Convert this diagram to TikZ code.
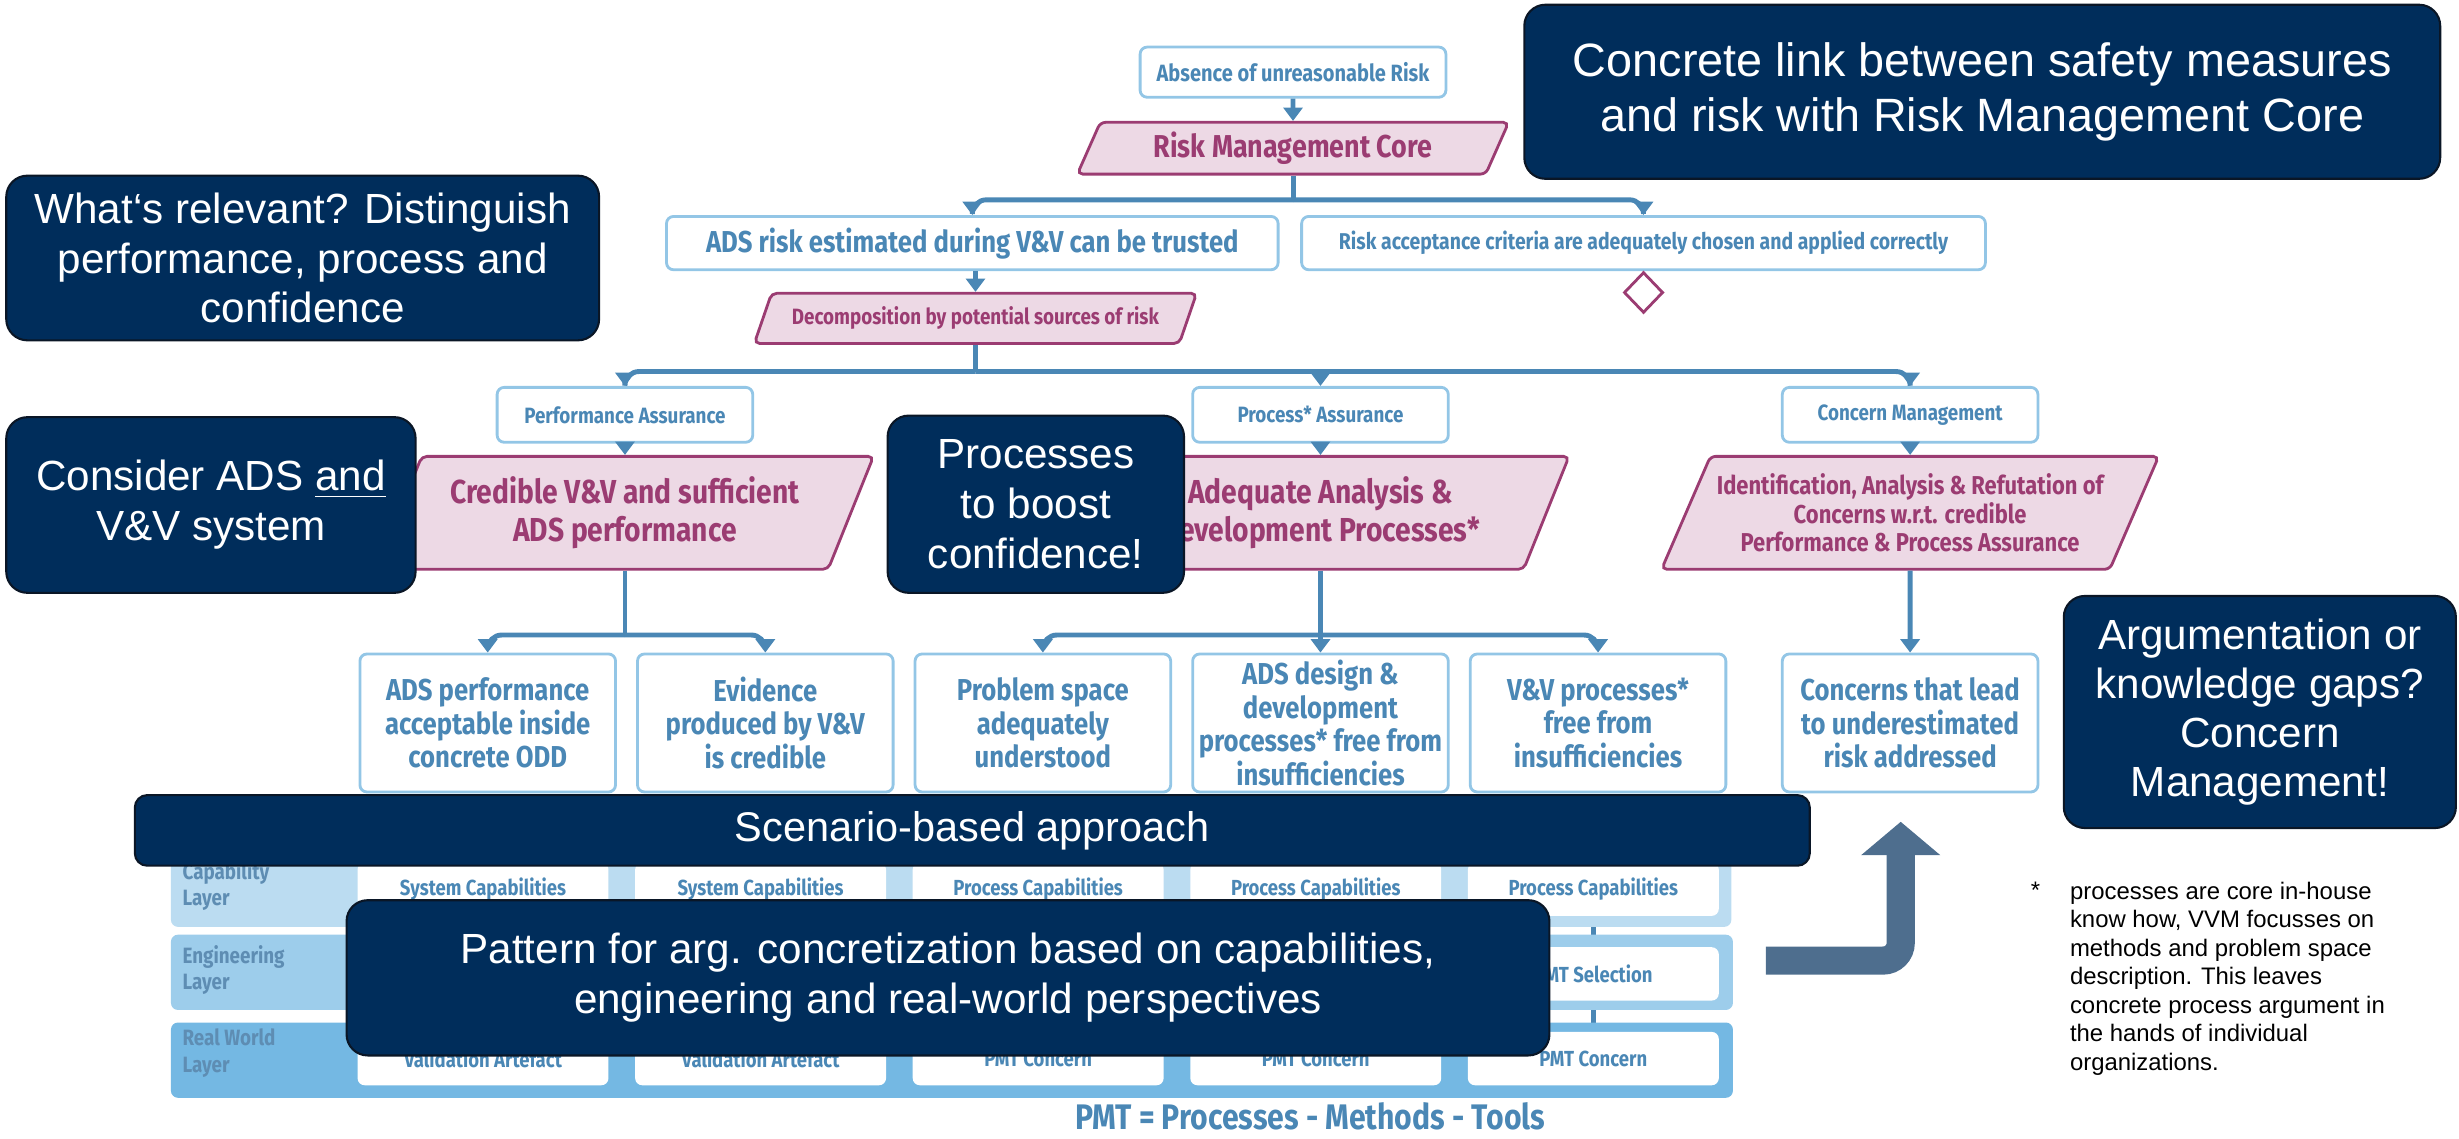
\documentclass[tikz,border=0pt]{standalone}
\usepackage{fontspec}
\setmainfont{Liberation Sans}
\newfontfamily\gsnfont[FakeStretch=0.85]{Fira Sans}
\usepackage{tikz}
\usetikzlibrary{arrows.meta}
\usetikzlibrary{shapes.geometric}
\usetikzlibrary{backgrounds}
\newdimen\unitpx
\unitpx=0.1568mm
\newcommand{\fsz}[2]{\fontsize{#1}{#2}\selectfont}
\definecolor{navybox}{HTML}{002D5B}
\definecolor{navyline}{HTML}{0A1626}
\definecolor{gsnblue}{HTML}{4A87B5}
\definecolor{gsnframe}{HTML}{93C6E6}
\definecolor{stratfill}{HTML}{EDD9E5}
\definecolor{stratline}{HTML}{9B3C72}
\definecolor{capband}{HTML}{BBDCF1}
\definecolor{engband}{HTML}{9DCDEB}
\definecolor{rwband}{HTML}{74B8E3}
\definecolor{bigarrow}{HTML}{4E6E8E}
\definecolor{layertext}{HTML}{5E8DB3}
\tikzset{
  goal/.style={draw=gsnframe, line width=0.8pt, fill=white, rounded corners=2pt, text=gsnblue, align=center, inner sep=1pt},
  strat/.style={trapezium, trapezium left angle=60, trapezium right angle=120, trapezium stretches body, draw=stratline, fill=stratfill, line width=0.8pt, rounded corners=1.5pt, text=stratline, align=center, inner xsep=-10pt, inner ysep=1pt},
  assure/.style={goal, font=\gsnfont\bfseries\fsz{6.3}{7.4}, minimum width=163\unitpx, minimum height=35\unitpx},
  branch/.style={strat, font=\gsnfont\bfseries\fsz{9.45}{10.6}, minimum width=317\unitpx, minimum height=72\unitpx},
  subgoal/.style={goal, font=\gsnfont\bfseries\fsz{8.6}{9.5}, minimum width=163\unitpx, minimum height=88\unitpx},
  link/.style={draw=gsnblue, line width=1.4pt, rounded corners=4pt},
  tip/.style={-{Triangle[width=5.4pt,length=3.8pt]}},
  cell/.style={fill=white, rounded corners=2pt, text=gsnblue, font=\gsnfont\bfseries\fsz{6.2}{7.2}, minimum width=160\unitpx, minimum height=34\unitpx, inner sep=0pt},
  layerlabel/.style={text=layertext, font=\gsnfont\bfseries\fsz{6.3}{7.6}, align=left, anchor=west, inner sep=0pt},
  callout/.style={fill=navybox, draw=navyline, line width=0.6pt, rounded corners=6pt, text=white, align=center, inner sep=0pt, font=\fsz{12}{14.2}},
}
\begin{document}
\begin{tikzpicture}[x=0.1568mm, y=-0.1568mm]
\useasboundingbox (0,0) rectangle (1568,726);

\node[goal, font=\gsnfont\bfseries\fsz{6.7}{7.8}, minimum width=195\unitpx, minimum height=32\unitpx] (absence) at (824.5,46) {Absence of unreasonable Risk};
\node[strat, font=\gsnfont\bfseries\fsz{9}{10.2}, minimum width=275\unitpx, minimum height=33\unitpx] (rmc) at (824.5,94.5) {Risk Management Core};
\node[goal, font=\gsnfont\bfseries\fsz{8.6}{9.8}, minimum width=390\unitpx, minimum height=34\unitpx] (adsrisk) at (620,155) {ADS risk estimated during V\&V can be trusted};
\node[goal, font=\gsnfont\bfseries\fsz{6.5}{7.6}, minimum width=436\unitpx, minimum height=34\unitpx] (riskacc) at (1048,155) {Risk acceptance criteria are adequately chosen and applied correctly};
\node[diamond, draw=stratline, fill=white, line width=0.8pt, inner sep=0pt, minimum width=25\unitpx, minimum height=26\unitpx] (undev) at (1048,186.5) {};
\node[strat, font=\gsnfont\bfseries\fsz{6.3}{7.4}, minimum width=282\unitpx, minimum height=32\unitpx] (decomp) at (622,203) {Decomposition by potential sources of risk};

\node[assure] (perfA) at (398.5,264.5) {Performance Assurance};
\node[assure] (procA) at (842,264.5) {Process* Assurance};
\node[assure] (concM) at (1218,264.5) {Concern Management};

\node[branch] (credible) at (398.5,327) {Credible V\&V and sufficient\\ADS performance};
\node[branch] (adequate) at (842,327) {Adequate Analysis \&\\Development Processes*};
\node[branch, font=\gsnfont\bfseries\fsz{7.35}{8}] (ident) at (1218,327) {Identification, Analysis \& Refutation of\\Concerns w.r.t. credible\\Performance \& Process Assurance};

\node[subgoal] (g1) at (311,461) {ADS performance\\acceptable inside\\concrete ODD};
\node[subgoal] (g2) at (488,461) {Evidence\\produced by V\&V\\is credible};
\node[subgoal] (g3) at (665,461) {Problem space\\adequately\\understood};
\node[subgoal] (g4) at (842,461) {ADS design \&\\development\\processes* free from\\insufficiencies};
\node[subgoal] (g5) at (1019,461) {V\&V processes*\\free from\\insufficiencies};
\node[subgoal] (g6) at (1218,461) {Concerns that lead\\to underestimated\\risk addressed};

\draw[link, tip] (absence.south) -- (rmc.north);
\draw[link] (rmc.south) -- ++(0,15.5) coordinate (j1);
\draw[link, tip] (j1) -| (adsrisk.north);
\draw[link, tip] (j1) -| (riskacc.north);
\draw[link, tip] (adsrisk.south -| decomp.north) -- (decomp.north);
\draw[link] (decomp.south) -- ++(0,17) coordinate (j2);
\draw[link, tip] (j2) -| (perfA.north);
\draw[link, tip] (j2) -| (concM.north);
\draw[link, tip] (j2 -| procA.north) -- (procA.north);
\draw[link, tip] (perfA.south) -- (credible.north);
\draw[link, tip] (procA.south) -- (adequate.north);
\draw[link, tip] (concM.south) -- (ident.north);
\draw[link] (credible.south) -- ++(0,41) coordinate (j3);
\draw[link, tip] (j3) -| (g1.north);
\draw[link, tip] (j3) -| (g2.north);
\draw[link] (adequate.south) -- ++(0,41) coordinate (j4);
\draw[link, tip] (j4) -| (g3.north);
\draw[link, tip] (j4) -| (g5.north);
\draw[link, tip] (j4) -- (g4.north);
\draw[link, tip] (ident.south) -- (g6.north);

\foreach \x/\t [count=\i] in {308/System Capabilities, 485/System Capabilities, 662/Process Capabilities, 839/Process Capabilities, 1016/Process Capabilities}
  \node[cell] (cap\i) at (\x,567) {\t};
\node[cell] (eng5) at (1016,621) {PMT Selection};
\foreach \x/\t [count=\i] in {308/Validation Artefact, 485/Validation Artefact, 662/PMT Concern, 839/PMT Concern, 1016/PMT Concern}
  \node[cell] (rw\i) at (\x,675) {\t};
\node[layerlabel] (caplabel) at (116,565) {Capability\\Layer};
\node[layerlabel] (englabel) at (116,618.5) {Engineering\\Layer};
\node[layerlabel] (rwlabel) at (116,671.5) {Real World\\Layer};
\begin{pgfonlayer}{background}
\draw[gsnblue, line width=1.6pt] (cap5.south) -- (eng5.north);
\draw[gsnblue, line width=1.6pt] (eng5.south) -- (rw5.north);
\fill[capband, rounded corners=2pt] (109,543) rectangle (1104,591);
\fill[engband, rounded corners=2pt] (109,596) rectangle (1105,644);
\fill[rwband, rounded corners=2pt] (109,652) rectangle (1105,700);
\end{pgfonlayer}

\coordinate (upfoot) at (1126,612.5);
\coordinate (uptip) at (1212,524);
\draw[bigarrow, line width=8pt, rounded corners=5pt, -{Triangle[width=22pt,length=9.5pt]}] (upfoot) -| (uptip);

\node[font=\gsnfont\bfseries\fsz{10.1}{11.5}, text=gsnblue, anchor=base, inner sep=0pt] (pmt) at (835.5,720.5) {PMT = Processes - Methods - Tools};
\node[font=\fsz{6.8}{8.1}, anchor=base, inner sep=0pt] (star) at (1298,573) {*};
\node[font=\fsz{6.8}{8.1}, anchor=north west, align=left, inner sep=0pt] (note) at (1319.5,562) {processes are core in-house\\know how, VVM focusses on\\methods and problem space\\description. This leaves\\concrete process argument in\\the hands of individual\\organizations.};

\node[callout, minimum width=378\unitpx, minimum height=105\unitpx] (relevant) at (193,164.5) {What‘s relevant? Distinguish\\performance, process and\\confidence};
\node[callout, font=\fsz{13.3}{15.5}, minimum width=584\unitpx, minimum height=111\unitpx] (riskcore) at (1264,58.5) {Concrete link between safety measures\\and risk with Risk Management Core};
\node[callout, minimum width=261\unitpx, minimum height=112\unitpx] (adsvv) at (134.5,322) {Consider ADS \underline{and}\\V\&V system};
\node[callout, minimum width=189\unitpx, minimum height=113\unitpx] (boost) at (660.5,321.5) {Processes\\to boost\\confidence!};
\node[callout, font=\fsz{12}{14}, minimum width=250\unitpx, minimum height=148\unitpx] (gaps) at (1441,454) {Argumentation or\\knowledge gaps?\\Concern\\Management!};
\node[callout, rounded corners=3.5pt, font=\fsz{11.8}{14}, minimum width=1068\unitpx, minimum height=45\unitpx] (scenario) at (620,529.5) {Scenario-based approach};
\node[callout, minimum width=767\unitpx, minimum height=99\unitpx] (pattern) at (604.5,623.5) {Pattern for arg. concretization based on capabilities,\\engineering and real-world perspectives};
\end{tikzpicture}
\end{document}
